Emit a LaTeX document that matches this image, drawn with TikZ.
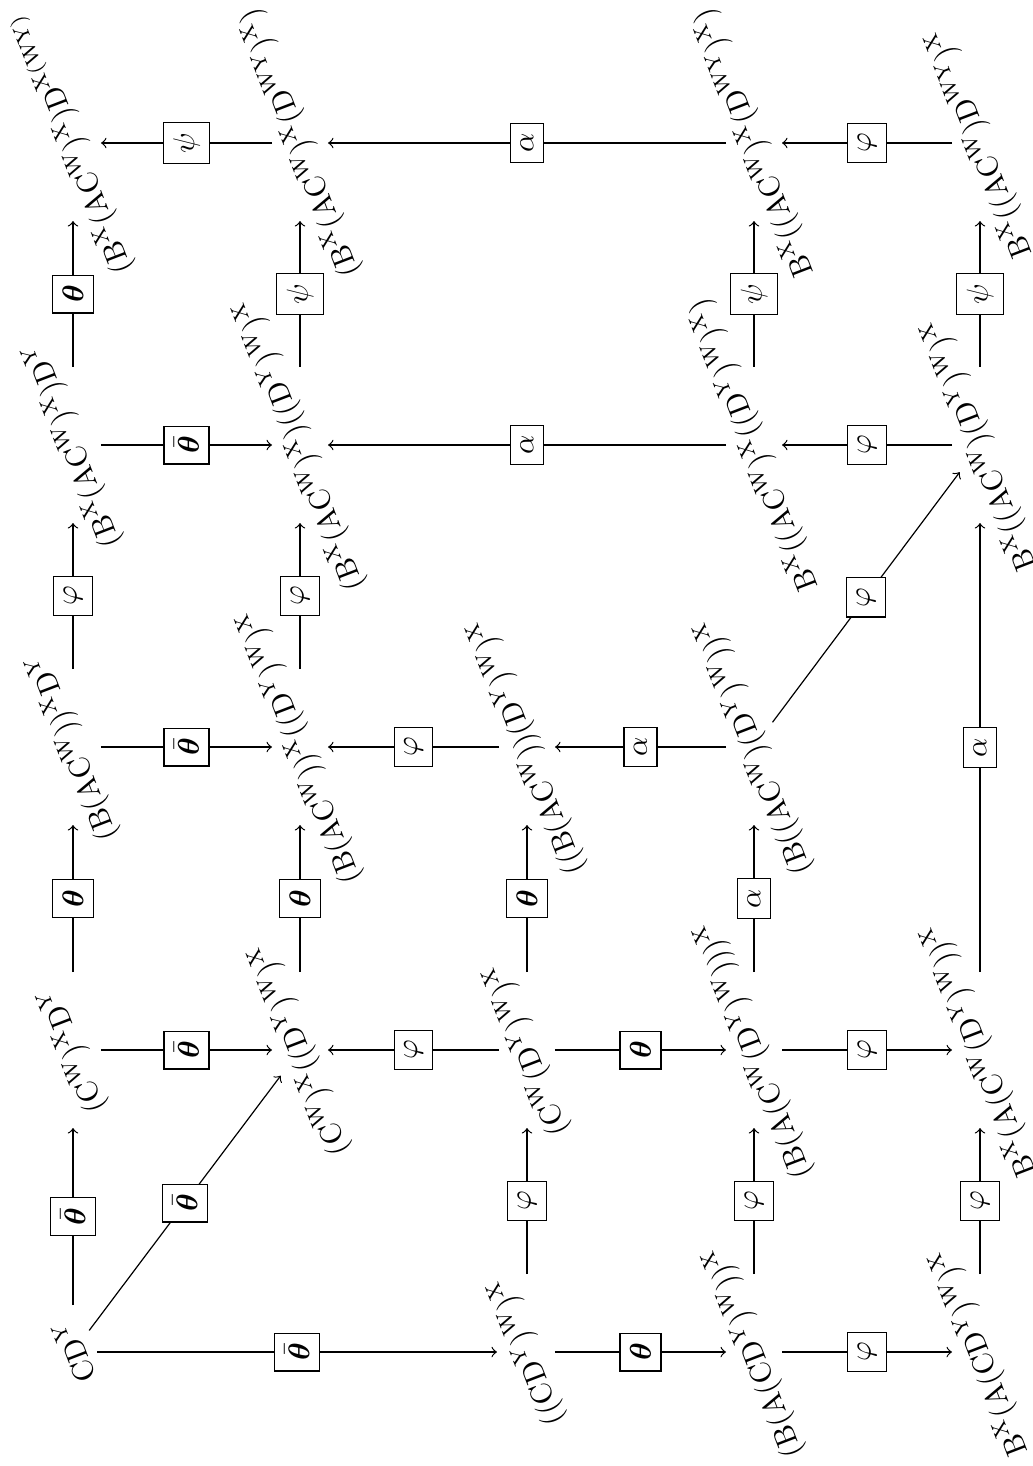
\documentclass[tikz,border=0pt]{standalone}
\usepackage{amsmath,amssymb,bm}
\usetikzlibrary{calc}
\newcommand{\mor}[5]{\draw[cd] ($(#1.center)!#3!(#2.center)$) -- node[fn]{$#5$} ($(#2.center)!#4!(#1.center)$);}
\newcommand{\tb}{\boldsymbol{\theta}}
\newcommand{\tbb}{\bar{\boldsymbol{\theta}}}
\begin{document}
\begin{tikzpicture}[x=0.3333pt,y=-0.3333pt,
  lbl/.style={inner sep=1pt, rotate=111},
  fn/.style={draw, fill=white, rotate=90, inner sep=3.33pt, line width=0.4pt},
  cd/.style={->, line width=0.4pt}]
\useasboundingbox (0,0) rectangle (1033,1466);
% column 0
\node[lbl] (n00) at (73,1352) {$\mathrm{CD^Y}$};
\node[lbl] (n01) at (73,1050) {$\mathrm{(C^W)^X D^Y}$};
\node[lbl] (n02) at (73,747) {$\mathrm{(B(AC^W))^X D^Y}$};
\node[lbl] (n03) at (73,445) {$\mathrm{(B^X(AC^W)^X)D^Y}$};
\node[lbl] (n04) at (73,143) {$\mathrm{(B^X(AC^W)^X)D^{X(WY)}}$};
% column 1
\node[lbl] (n11) at (300,1050) {$\mathrm{(C^W)^X((D^Y)^W)^X}$};
\node[lbl] (n12) at (300,747) {$\mathrm{(B(AC^W))^X((D^Y)^W)^X}$};
\node[lbl] (n13) at (300,445) {$\mathrm{(B^X(AC^W)^X)((D^Y)^W)^X}$};
\node[lbl] (n14) at (300,143) {$\mathrm{(B^X(AC^W)^X(D^{WY})^X)}$};
% column 2
\node[lbl] (n20) at (527,1352) {$\mathrm{((CD^Y)^W)^X}$};
\node[lbl] (n21) at (527,1050) {$\mathrm{(C^W(D^Y)^W)^X}$};
\node[lbl] (n22) at (527,747) {$\mathrm{((B(AC^W))(D^Y)^W)^X}$};
% column 3
\node[lbl] (n30) at (754,1352) {$\mathrm{(B(A(CD^Y)^W))^X}$};
\node[lbl] (n31) at (754,1050) {$\mathrm{(B(A(C^W(D^Y)^W)))^X}$};
\node[lbl] (n32) at (754,747) {$\mathrm{(B((AC^W)(D^Y)^W))^X}$};
\node[lbl] (n33) at (754,445) {$\mathrm{B^X((AC^W)^X((D^Y)^W)^X)}$};
\node[lbl] (n34) at (754,143) {$\mathrm{B^X((AC^W)^X(D^{WY})^X)}$};
% column 4
\node[lbl] (n40) at (980,1352) {$\mathrm{B^X(A(CD^Y)^W)^X}$};
\node[lbl] (n41) at (980,1050) {$\mathrm{B^X(A(C^W(D^Y)^W))^X}$};
\node[lbl] (n43) at (980,445) {$\mathrm{B^X((AC^W)(D^Y)^W)^X}$};
\node[lbl] (n44) at (980,143) {$\mathrm{B^X((AC^W)D^{WY})^X}$};
% vertical (image) connectors
\mor{n00}{n01}{15.67pt}{26pt}{\tbb}
\mor{n01}{n02}{26pt}{26pt}{\tb}
\mor{n02}{n03}{26pt}{26pt}{\varphi}
\mor{n03}{n04}{26pt}{26pt}{\tb}
\mor{n11}{n12}{26pt}{26pt}{\tb}
\mor{n12}{n13}{26pt}{26pt}{\varphi}
\mor{n13}{n14}{26pt}{26pt}{\psi}
\mor{n20}{n21}{26pt}{26pt}{\varphi}
\mor{n21}{n22}{26pt}{26pt}{\tb}
\mor{n30}{n31}{26pt}{26pt}{\varphi}
\mor{n31}{n32}{26pt}{26pt}{\alpha}
\mor{n33}{n34}{26pt}{26pt}{\psi}
\mor{n40}{n41}{26pt}{26pt}{\varphi}
\mor{n41}{n43}{26pt}{26pt}{\alpha}
\mor{n43}{n44}{26pt}{26pt}{\psi}
% horizontal (image) connectors
\mor{n00}{n20}{8pt}{10pt}{\tbb}
\mor{n20}{n30}{9.33pt}{9.33pt}{\tb}
\mor{n30}{n40}{9.33pt}{9.33pt}{\varphi}
\mor{n01}{n11}{9.33pt}{9.33pt}{\tbb}
\mor{n21}{n11}{9.33pt}{9.33pt}{\varphi}
\mor{n21}{n31}{9.33pt}{9.33pt}{\tb}
\mor{n31}{n41}{9.33pt}{9.33pt}{\varphi}
\mor{n02}{n12}{9.33pt}{9.33pt}{\tbb}
\mor{n22}{n12}{9.33pt}{9.33pt}{\varphi}
\mor{n32}{n22}{9.33pt}{9.33pt}{\alpha}
\mor{n03}{n13}{9.33pt}{9.33pt}{\tbb}
\mor{n33}{n13}{9.33pt}{9.33pt}{\alpha}
\mor{n43}{n33}{9.33pt}{9.33pt}{\varphi}
\mor{n14}{n04}{9.33pt}{9.33pt}{\psi}
\mor{n34}{n14}{9.33pt}{9.33pt}{\alpha}
\mor{n44}{n34}{9.33pt}{9.33pt}{\varphi}
% diagonals
\mor{n00}{n11}{9pt}{10.7pt}{\tbb}
\mor{n32}{n43}{10.3pt}{11.3pt}{\varphi}
\end{tikzpicture}
\end{document}
